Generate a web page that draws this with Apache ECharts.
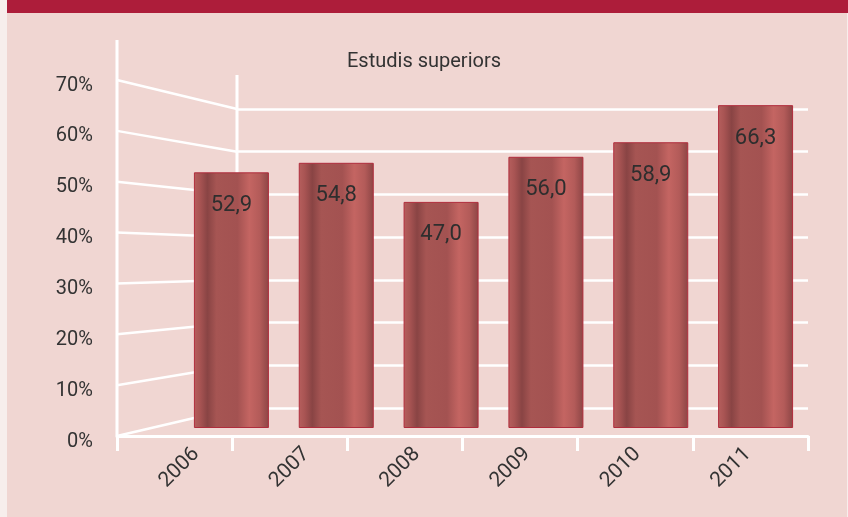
<!DOCTYPE html>
<html>
<head>
<meta charset="utf-8">
<script src="https://cdn.jsdelivr.net/npm/echarts@6/dist/echarts.min.js"></script>
<style>
html,body{margin:0;padding:0;background:#f0d6d2;}
#c{width:848px;height:517px;}
</style>
</head>
<body>
<div id="c"></div>
<script>
// ---- data ----
var years = ['2006', '2007', '2008', '2009', '2010', '2011'];
var values = [52.9, 54.8, 47.0, 56.0, 58.9, 66.3];
var tickValues = [0, 10, 20, 30, 40, 50, 60, 70];
var chartTitle = 'Estudis superiors';

var FONT = "Roboto, 'DejaVu Sans Condensed', sans-serif";
var TXT = '#333333';

var chart = echarts.init(document.getElementById('c'), null, {renderer: 'canvas'});

var barColor = new echarts.graphic.LinearGradient(0, 0, 1, 0, [
  {offset: 0, color: '#b65f5d'},
  {offset: 0.08, color: '#a85453'},
  {offset: 0.18, color: '#894444'},
  {offset: 0.3, color: '#a65553'},
  {offset: 0.58, color: '#a35251'},
  {offset: 0.74, color: '#c46562'},
  {offset: 0.88, color: '#b35b59'},
  {offset: 1, color: '#8c4545'}
]);

var option = {
  backgroundColor: '#f0d6d2',
  animation: false,
  title: {
    text: chartTitle, left: 'center', top: 47,
    textStyle: {fontFamily: FONT, fontSize: 20, fontWeight: 'normal', color: TXT}
  },
  grid: [
    {left: 117, right: 40, top: 80, bottom: 81},     // front / left wall
    {left: 237, right: 40, top: 109, bottom: 109},   // back wall
    {left: 179, right: 40, top: 86.6, bottom: 89.5}, // bars
    {left: 141, right: 45, top: 80, bottom: 81}      // year labels
  ],
  xAxis: [
    {gridIndex: 0, type: 'category', data: years,
     axisLine: {show: true, lineStyle: {color: '#fff', width: 3}},
     axisTick: {show: true, length: 15, lineStyle: {color: '#fff', width: 3}},
     axisLabel: {show: false}, splitLine: {show: false}},
    {gridIndex: 1, type: 'value', show: false},
    {gridIndex: 2, type: 'category', data: years, show: false},
    {gridIndex: 3, type: 'category', data: years,
     axisLine: {show: false}, axisTick: {show: false},
     axisLabel: {show: true, rotate: 45, margin: 15, fontFamily: FONT, fontSize: 21, color: TXT}}
  ],
  yAxis: [
    {gridIndex: 0, type: 'value', min: 0, max: 70, interval: 10,
     axisLine: {show: false}, axisTick: {show: false}, splitLine: {show: false},
     axisLabel: {formatter: '{value}%', margin: 24, fontFamily: FONT, fontSize: 20, color: TXT,
                 verticalAlign: 'top', lineHeight: 11}},
    {gridIndex: 1, type: 'value', min: 0, max: 70, interval: 10,
     axisLine: {show: false}, axisTick: {show: false}, axisLabel: {show: false},
     splitLine: {show: true, lineStyle: {color: '#fff', width: 2.5}}},
    {gridIndex: 2, type: 'value', min: 2, max: 70, show: false, splitLine: {show: false}},
    {gridIndex: 3, type: 'value', show: false, splitLine: {show: false}}
  ],
  series: [{
    type: 'bar', xAxisIndex: 2, yAxisIndex: 2, data: values,
    barWidth: 75, clip: true, z: 5,
    itemStyle: {color: barColor, borderColor: '#b02c3c', borderWidth: 1},
    label: {show: true, position: 'insideTop', distance: 22,
            fontFamily: FONT, fontSize: 22, color: '#2e2e2e',
            formatter: function (p) { return p.value.toFixed(1).replace('.', ','); }}
  }]
};
chart.setOption(option);

// ---- perspective decoration derived from the axes ----
var gA = chart.getModel().getComponent('grid', 0).coordinateSystem.getRect();
var gB = chart.getModel().getComponent('grid', 1).coordinateSystem.getRect();
var yA = function (v) { return chart.convertToPixel({yAxisIndex: 0}, v); };
var yB = function (v) { return chart.convertToPixel({yAxisIndex: 1}, v); };

var els = [
  {type: 'rect', shape: {x: 0, y: 0, width: 7, height: 517}, style: {fill: '#f7eeec'}, silent: true},
  {type: 'rect', shape: {x: 7, y: 0, width: 841, height: 13}, style: {fill: '#ad1d3a'}, silent: true},
  {type: 'rect', shape: {x: 847, y: 13, width: 1, height: 504}, style: {fill: '#f7eeec'}, silent: true},
  // front vertical axis
  {type: 'line', shape: {x1: gA.x, y1: yA(70) - 40, x2: gA.x, y2: yA(0)}, style: {stroke: '#fff', lineWidth: 3}, silent: true},
  // back wall vertical
  {type: 'line', shape: {x1: gB.x, y1: yB(70) - 34, x2: gB.x, y2: yB(0)}, style: {stroke: '#fff', lineWidth: 3}, silent: true}
];
tickValues.forEach(function (v) {
  els.push({type: 'line', shape: {x1: gA.x, y1: yA(v), x2: gB.x, y2: yB(v)},
            style: {stroke: '#fff', lineWidth: 2.5}, silent: true});
});
chart.setOption({graphic: {elements: els}});
</script>
</body>
</html>
